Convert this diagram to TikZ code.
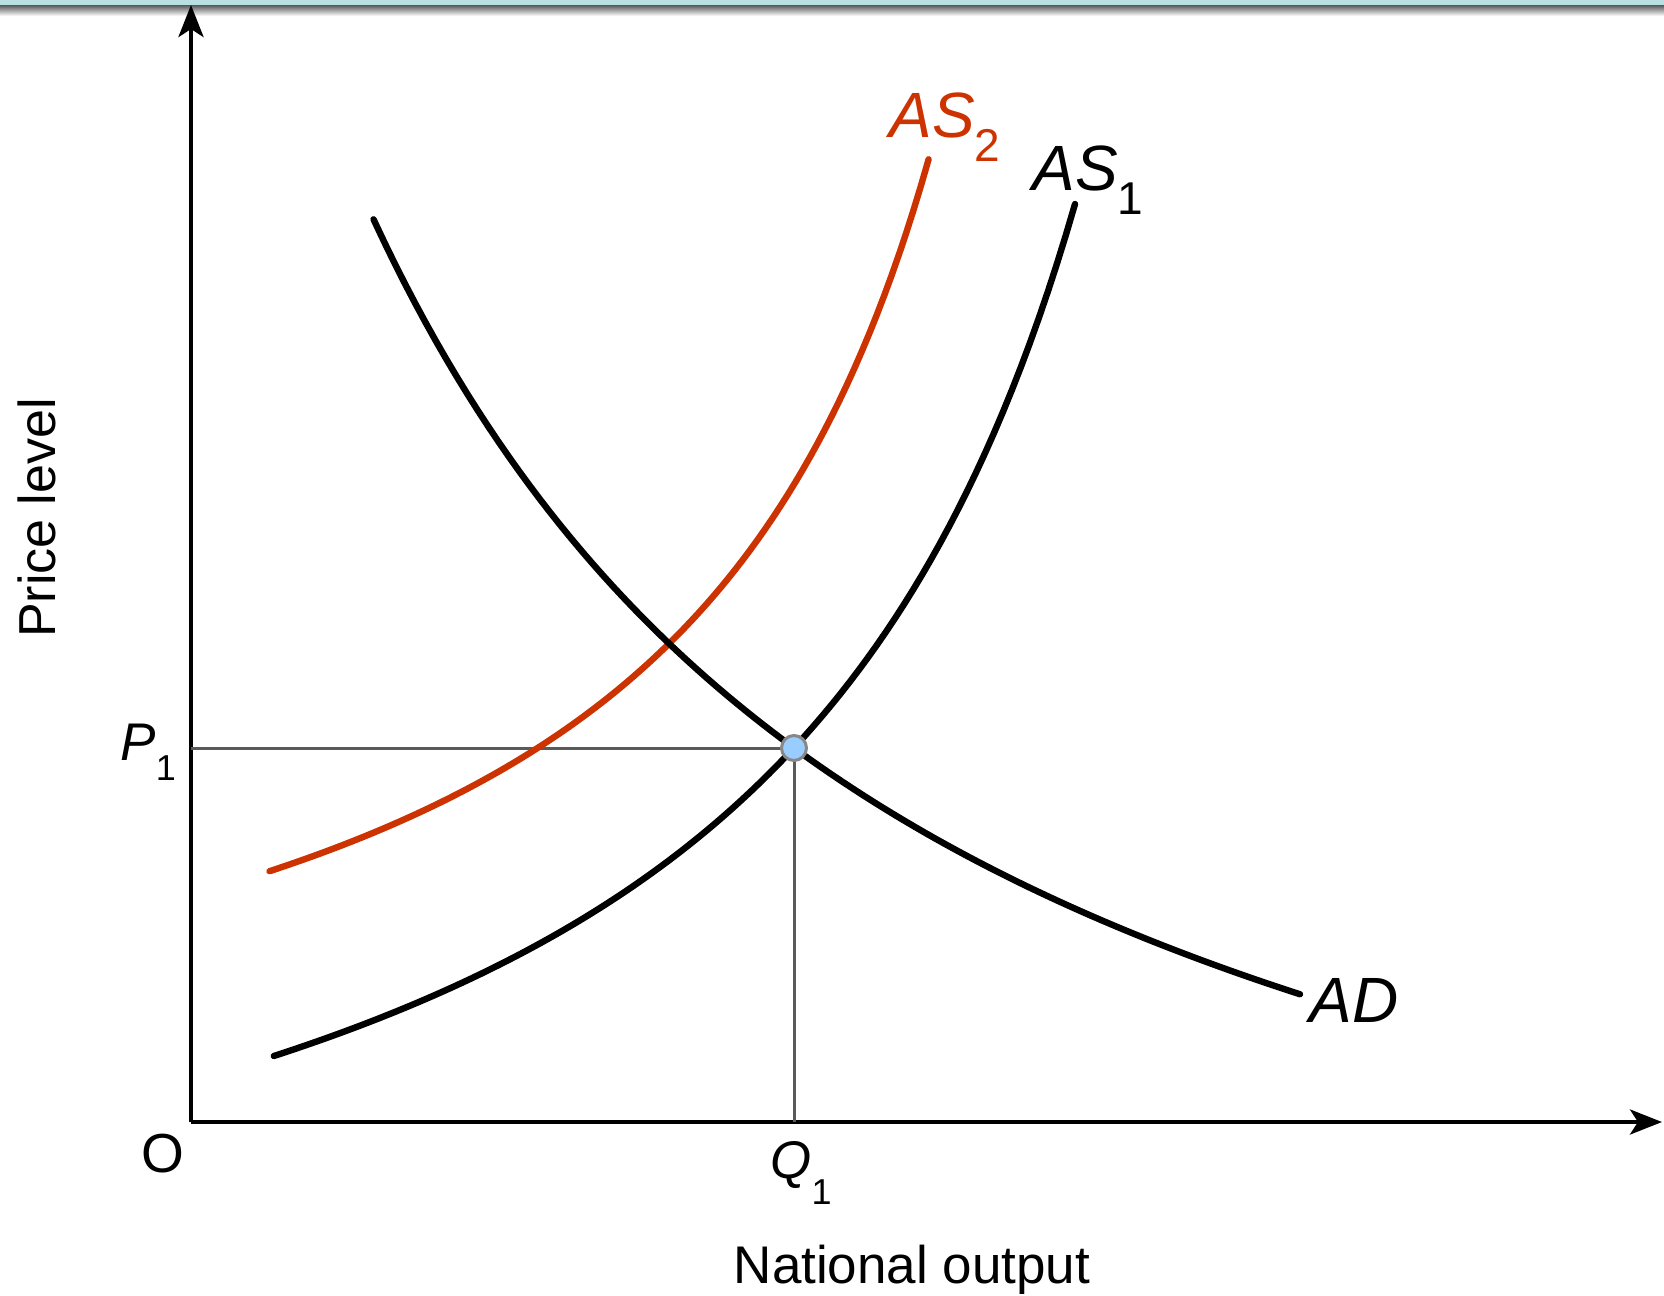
\documentclass[tikz,border=0pt]{standalone}
\usepackage{fontspec}
\setmainfont{Liberation Sans}
\usepackage{xcolor}
\usepackage{tikz}
\usetikzlibrary{arrows.meta, positioning}
\definecolor{SupplyRed}{RGB}{204,51,0}
\definecolor{EqBlue}{RGB}{153,204,255}
\definecolor{GridGray}{RGB}{90,90,90}
\definecolor{RingGray}{RGB}{135,135,135}
\definecolor{BarBlue}{RGB}{184,223,226}
\newcommand{\curvelbl}[2]{\textit{#1}\raisebox{-12.5pt}{\fontsize{23}{23}\selectfont #2}}
\newcommand{\axislbl}[3]{\textit{#1}\raisebox{-#3}{\fontsize{18}{18}\selectfont #2}}
\tikzset{
  >={Stealth[length=16pt,width=12.5pt,inset=4pt]},
  % assi e linee guida
  axis/.style={line width=2.2pt,->},
  guide/.style={line width=1.5pt,GridGray},
  % curve AS / AD
  curve/.style={line width=3.2pt,line cap=round,samples=90},
  eqdot/.style={circle,draw=RingGray,fill=EqBlue,line width=1.5pt,minimum size=12.5pt,inner sep=0},
  % etichette
  curvelab/.style={inner sep=0,anchor=base west,font=\fontsize{32}{32}\selectfont},
  ticklab/.style={inner sep=0,anchor=base west,font=\fontsize{26.5}{26.5}\selectfont},
  axislab/.style={inner sep=0,anchor=base,font=\fontsize{26.5}{26.5}\selectfont}
}
\begin{document}
\begin{tikzpicture}[x=0.5pt,y=-0.5pt]
  \useasboundingbox (0,0) rectangle (1664,1295);
  % barra in alto
  \fill[BarBlue] (0,0) rectangle (1664,6);
  \shade[top color=black!60,bottom color=white] (0,6) rectangle (1664,16);
  % assi
  \coordinate (O) at (191,1122);
  \coordinate (ytop) at (191,5);
  \coordinate (xend) at (1662,1122);
  \draw[axis] (O) -- (ytop);
  \draw[axis] (O) -- (xend);
  % equilibrio
  \coordinate (E) at (794,748);
  \coordinate (Pax) at (191,748);
  \coordinate (Qax) at (794,1122);
  \draw[guide] (Pax) -- (E);
  \draw[guide] (E) -- (Qax);
  % AS_2
  \draw[curve,SupplyRed] plot[domain=269.5:928.6] (\x,{1184-2967.53/((1218.2-\x)/100)});
  % AS_1
  \draw[curve] plot[domain=273.8:1075] (\x,{1432-4342.05/((1428.6-\x)/100)});
  % AD
  \draw[curve] plot[domain=373.5:1300] (\x,{1484-7405/((\x+212)/100)});
  \node[eqdot] (eq) at (E) {};
  % etichette
  \node[curvelab,SupplyRed] (as2) at (889,137) {\curvelbl{AS}{2}};
  \node[curvelab] (as1) at (1032,190) {\curvelbl{AS}{1}};
  \node[curvelab] (ad) at (1309,1022) {\textit{AD}};
  \node[ticklab] (p1) at (120,760) {\axislbl{P}{1}{10pt}};
  \node[ticklab] (q1) at (770,1178) {\axislbl{Q}{1}{13pt}};
  \node[ticklab,font=\fontsize{27.5}{27.5}\selectfont] (orig) at (141,1172) {O};
  \node[axislab] (xlab) at (912,1283) {National output};
  \node[axislab,rotate=90,font=\fontsize{26}{26}\selectfont] (ylab) at (55,518) {Price level};
\end{tikzpicture}
\end{document}
